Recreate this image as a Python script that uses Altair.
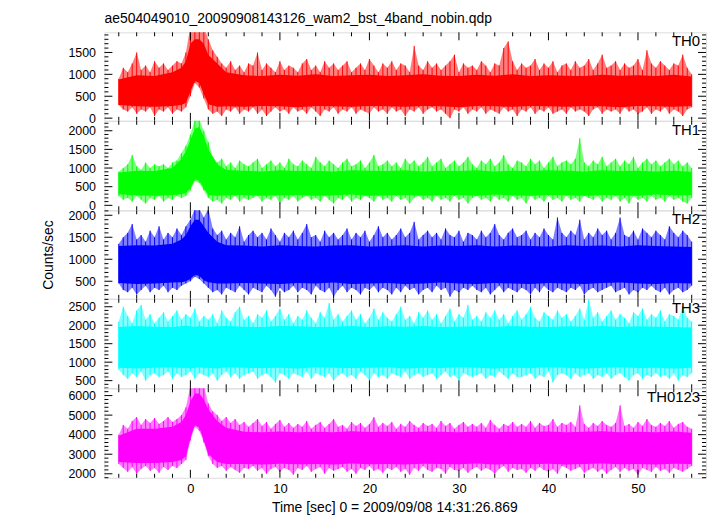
import altair as alt
import pandas as pd

TITLE = "ae504049010_20090908143126_wam2_bst_4band_nobin.qdp"
XTITLE = "Time [sec] 0 = 2009/09/08 14:31:26.869"
YTITLE = "Counts/sec"
FONT = "Liberation Sans"

# envelope samples every 0.5 s from t = -8 s
T_START, T_STEP = -8.0, 0.5
# core (dense part) sample times
CORE_T = [-8, -6, -4, -2, -1, -0.5, 0, 0.5, 1, 1.5, 2, 3, 4,
          6, 8, 10, 12, 14, 16, 18, 20, 22, 24, 26, 28, 30, 32, 34, 36,
          38, 40, 42, 44, 46, 48, 50, 52, 54, 56]

X_MAJOR = [0, 10, 20, 30, 40, 50]
X_MINOR = [-8, -6, -4, -2, 2, 4, 6, 8, 12, 14, 16, 18, 22, 24, 26, 28,
           32, 34, 36, 38, 42, 44, 46, 48, 52, 54, 56]

# ---------------- TH0 ----------------
TH0_HI = [900, 1150, 1050, 1250, 1500, 1100, 1200, 1050, 1300, 1150,
          1250, 1100, 1200, 1300, 1250, 1500, 2100, 2100, 2100, 2100,
          1800, 1550, 1400, 1250, 1150, 1300, 1100, 1200, 1050, 1250,
          1200, 1500, 1100, 1250, 1150, 1050, 1300, 1100, 1200, 1150,
          1050, 1250, 1350, 1100, 1200, 1050, 1300, 1150, 1250, 1100,
          1200, 1300, 1050, 1150, 1250, 1100, 1350, 1200, 1050, 1250,
          1150, 1300, 1100, 1250, 1200, 1050, 1650, 1200, 1100, 1300,
          1150, 1250, 1100, 1200, 1300, 1450, 1050, 1250, 1150, 1200,
          1100, 1300, 1200, 1050, 1250, 1200, 1600, 1750, 1300, 1100,
          1250, 1150, 1200, 1350, 1100, 1250, 1150, 1300, 1050, 1200,
          1250, 1100, 1300, 1150, 1200, 1350, 1100, 1250, 1450, 1150,
          1200, 1300, 1100, 1250, 1150, 1200, 1350, 1100, 1550, 1250,
          1150, 1300, 1200, 1100, 1250, 1200, 1450, 1150, 1000]
TH0_LO = [300, 200, 150, 250, 100, 200, 150, 250, 50, 200,
          150, 250, 100, 200, 150, 250, 500, 800, 700, 450,
          200, 100, 150, 50, 200, 150, 250, 100, 200, 150,
          250, 100, 200, 50, 150, 250, 150, 200, 100, 250,
          150, 200, 100, 250, 150, 50, 200, 150, 250, 100,
          200, 150, 250, 100, 200, 150, 100, 250, 150, 200,
          100, 250, 150, 200, 50, 200, 150, 250, 100, 200,
          250, 150, 200, 100, 0, 200, 150, 250, 100, 200,
          150, 250, 100, 200, 150, 100, 250, 150, 200, 50,
          200, 150, 250, 100, 200, 150, 250, 100, 150, 200,
          100, 250, 150, 200, 150, 50, 200, 250, 100, 200,
          150, 200, 100, 250, 150, 200, 100, 150, 250, 100,
          200, 150, 250, 100, 200, 150, 50, 200, 250]
TH0_CHI = [880, 980, 960,
           1050, 1150, 1300, 1700, 1800, 1800, 1700, 1450, 1250, 1050,
           980, 960, 990, 970, 1000, 960, 980, 990, 960, 980, 1000, 970, 960,
           990, 970, 1000, 960, 980, 970, 960, 990, 970, 980, 960, 990, 950]
TH0_CLO = [300, 270, 260,
           280, 300, 350, 600, 850, 800, 550, 320, 260, 270,
           260, 280, 270, 250, 280, 270, 260, 280, 270, 260, 280, 270, 250,
           280, 270, 260, 280, 270, 260, 280, 270, 250, 280, 270, 260, 280]

# ---------------- TH1 ----------------
TH1_HI = [900, 1000, 1100, 1350, 1050, 950, 1150, 1000, 1100, 1050,
          1100, 1000, 1150, 1200, 1400, 1600, 1900, 2300, 2300, 2000,
          1700, 1300, 1150, 1250, 1050, 1150, 1000, 1200, 1100, 1050,
          1150, 1250, 1000, 1100, 1200, 1050, 1150, 1000, 1250, 1100,
          1050, 1200, 1100, 1000, 1300, 1150, 1050, 1200, 1100, 1000,
          1150, 1250, 1050, 1100, 1200, 1000, 1150, 1350, 1050, 1100,
          1200, 1050, 1150, 1000, 1250, 1100, 1200, 1050, 1150, 1300,
          1050, 1150, 1250, 1000, 1100, 1200, 1050, 1150, 1300, 1100,
          1000, 1200, 1100, 1250, 1050, 1150, 1350, 1100, 1000, 1200,
          1150, 1050, 1250, 1100, 1200, 1000, 1150, 1300, 1050, 1150,
          1200, 1100, 1250, 1800, 1150, 1050, 1200, 1100, 1300, 1050,
          1150, 1250, 1050, 1200, 1100, 1300, 1000, 1150, 1250, 1100,
          1200, 1050, 1150, 1250, 1100, 1200, 1050, 1150, 1000]
TH1_LO = [250, 150, 200, 100, 250, 150, 50, 200, 150, 250,
          100, 200, 150, 250, 200, 250, 400, 650, 600, 400,
          200, 100, 150, 50, 200, 150, 250, 100, 200, 150,
          200, 250, 100, 200, 150, 250, 50, 200, 150, 250,
          100, 200, 250, 150, 200, 100, 250, 150, 50, 200,
          150, 250, 100, 200, 150, 250, 200, 100, 250, 150,
          200, 100, 250, 150, 200, 50, 200, 250, 150, 200,
          100, 250, 150, 200, 100, 250, 150, 200, 50, 200,
          250, 150, 200, 100, 250, 150, 200, 100, 250, 150,
          200, 50, 250, 150, 200, 100, 250, 150, 200, 100,
          250, 150, 200, 100, 250, 200, 150, 250, 100, 200,
          150, 250, 100, 200, 50, 250, 150, 200, 100, 250,
          150, 200, 100, 250, 150, 200, 100, 50, 200]
TH1_CHI = [880, 930, 920,
           1000, 1250, 1450, 1750, 2050, 2100, 1850, 1500, 1100, 950,
           930, 910, 940, 920, 930, 910, 940, 930, 920, 940, 910, 930, 920,
           940, 910, 930, 920, 940, 930, 910, 940, 920, 930, 910, 930, 900]
TH1_CLO = [300, 270, 260,
           280, 300, 330, 450, 700, 650, 450, 280, 260, 270,
           280, 260, 270, 280, 260, 270, 290, 260, 270, 280, 260, 270, 280,
           260, 290, 270, 260, 280, 270, 260, 280, 270, 260, 290, 270, 280]

# ---------------- TH2 ----------------
TH2_HI = [1350, 1500, 1600, 1800, 1450, 1550, 1400, 1650, 1500, 1750,
          1450, 1600, 1500, 1700, 1550, 1750, 1900, 2150, 2150, 1950,
          2150, 1700, 1550, 1650, 1450, 1600, 1500, 1750, 1400, 1550,
          1650, 1500, 1600, 1450, 1700, 1550, 1400, 1600, 1500, 1650,
          1450, 1600, 1800, 1500, 1550, 1400, 1650, 1500, 1600, 1450,
          1550, 1700, 1450, 1600, 1500, 1650, 1400, 1550, 1750, 1500,
          1600, 1450, 1550, 1700, 1500, 1600, 1850, 1450, 1550, 1650,
          1500, 1600, 1450, 1700, 1550, 1500, 1650, 1400, 1600, 1550,
          1450, 1650, 1500, 1600, 1800, 1550, 1450, 1600, 1700, 1500,
          1550, 1650, 1450, 1600, 1500, 1700, 1550, 1450, 1950, 1600,
          1500, 1650, 1550, 1900, 1450, 1600, 1500, 1700, 1550, 1650,
          1450, 1600, 1950, 1550, 1500, 1650, 1450, 1700, 1600, 1500,
          1650, 1550, 1450, 1750, 1600, 1500, 1650, 1550, 1400]
TH2_LO = [450, 300, 250, 350, 200, 300, 400, 250, 350, 300,
          400, 250, 350, 300, 400, 450, 500, 600, 550, 450,
          350, 250, 300, 200, 350, 300, 250, 400, 300, 200,
          350, 300, 250, 400, 300, 150, 350, 250, 300, 400,
          250, 350, 300, 200, 400, 300, 250, 350, 150, 300,
          400, 250, 350, 300, 200, 350, 300, 400, 250, 350,
          300, 200, 350, 250, 400, 300, 350, 200, 300, 350,
          250, 400, 300, 350, 150, 300, 250, 350, 300, 400,
          300, 250, 350, 200, 300, 400, 250, 350, 300, 250,
          350, 300, 200, 350, 250, 400, 300, 250, 350, 300,
          250, 350, 300, 400, 200, 300, 350, 250, 300, 350,
          400, 250, 300, 350, 200, 300, 250, 350, 300, 400,
          300, 250, 350, 200, 300, 350, 250, 300, 400]
TH2_CHI = [1300, 1320, 1310,
           1350, 1450, 1550, 1750, 1900, 1900, 1750, 1600, 1400, 1320,
           1310, 1290, 1320, 1300, 1290, 1310, 1320, 1290, 1300, 1320, 1290, 1310, 1300,
           1320, 1290, 1310, 1300, 1290, 1320, 1300, 1310, 1290, 1320, 1300, 1290, 1280]
TH2_CLO = [460, 440, 450,
           470, 480, 500, 550, 650, 620, 520, 480, 450, 450,
           460, 450, 440, 460, 450, 470, 440, 450, 460, 440, 450, 470, 450,
           440, 460, 450, 440, 460, 450, 440, 460, 470, 450, 440, 460, 450]

# ---------------- TH3 ----------------
TH3_HI = [2100, 2500, 2250, 2050, 2400, 2550, 2150, 2300, 2050, 2200,
          2350, 2100, 2250, 2400, 2150, 2300, 2200, 2450, 2100, 2250,
          2150, 2300, 2050, 2400, 2200, 2100, 2350, 2500, 2150, 2250,
          2050, 2300, 2200, 2400, 2100, 2250, 2450, 2150, 2300, 2050,
          2250, 2150, 2400, 2200, 2050, 2350, 2200, 2600, 2150, 2300,
          2100, 2250, 2400, 2150, 2300, 2050, 2200, 2450, 2150, 2350,
          2200, 2100, 2300, 2500, 2150, 2250, 2050, 2350, 2200, 2400,
          2150, 2300, 2050, 2250, 2450, 2100, 2300, 2200, 2550, 2150,
          2250, 2100, 2350, 2200, 2400, 2150, 2300, 2050, 2250, 2400,
          2150, 2300, 2500, 2200, 2100, 2350, 2250, 2150, 2400, 2200,
          2300, 2100, 2250, 2450, 2150, 2700, 2200, 2350, 2100, 2250,
          2400, 2150, 2300, 2200, 2050, 2350, 2250, 2450, 2150, 2300,
          2200, 2400, 2100, 2300, 2250, 2150, 2500, 2200, 2100]
TH3_LO = [800, 650, 550, 700, 600, 750, 500, 650, 700, 600,
          650, 750, 550, 700, 600, 650, 750, 550, 700, 650,
          600, 700, 500, 650, 750, 600, 700, 550, 650, 700,
          750, 550, 650, 700, 600, 450, 700, 650, 550, 700,
          650, 600, 750, 550, 700, 650, 600, 700, 500, 650,
          700, 600, 650, 550, 750, 650, 500, 700, 600, 650,
          550, 700, 650, 600, 750, 550, 650, 700, 600, 650,
          700, 550, 650, 750, 600, 650, 500, 700, 650, 600,
          650, 700, 550, 650, 600, 750, 650, 550, 700, 600,
          600, 650, 700, 550, 650, 600, 750, 450, 650, 700,
          650, 550, 700, 600, 650, 700, 550, 650, 600, 700,
          550, 650, 700, 600, 500, 650, 700, 550, 650, 600,
          700, 600, 650, 550, 700, 500, 650, 600, 700]
TH3_CHI = [1950, 1980, 1960,
           1950, 1970, 1990, 1970, 1950, 1980, 1960, 1950, 1970, 1980,
           1960, 1950, 1980, 1970, 1950, 1960, 1980, 1950, 1970, 1960, 1980, 1950, 1960,
           1970, 1950, 1980, 1960, 1950, 1970, 1960, 1980, 1950, 1970, 1960, 1950, 1940]
TH3_CLO = [850, 830, 850,
           860, 840, 850, 830, 850, 860, 840, 850, 830, 860,
           850, 840, 850, 830, 860, 850, 840, 850, 860, 830, 850, 840, 860,
           850, 830, 850, 840, 860, 850, 830, 850, 860, 840, 850, 830, 850]

# ---------------- TH0123 ----------------
TH0123_HI = [4000, 4500, 4300, 4700, 4900, 4500, 4800, 4600, 4850, 4550,
             4700, 4900, 4650, 4800, 5000, 5400, 6500, 6500, 6500, 6500,
             5600, 5200, 5000, 4700, 4900, 4600, 4800, 4500, 4650, 4400,
             4600, 4800, 4450, 4650, 4300, 4550, 4750, 4400, 4600, 4350,
             4550, 4400, 4700, 4300, 4500, 4650, 4350, 4550, 4800, 4400,
             4500, 4300, 4650, 4450, 4600, 4350, 4550, 4900, 4400, 4600,
             4450, 4650, 4300, 4550, 4400, 4700, 4500, 4350, 4600, 4450,
             4550, 4350, 4700, 4450, 4600, 4300, 4500, 4650, 4400, 4550,
             4400, 4600, 4350, 4750, 4500, 4300, 4550, 4450, 4650, 4400,
             4550, 4400, 4700, 4350, 4600, 4450, 4500, 4800, 4400, 4600,
             4500, 4650, 4400, 5500, 4550, 4350, 4600, 4450, 4700, 4500,
             4400, 4600, 5500, 4450, 4550, 4350, 4650, 4450, 4800, 4500,
             4400, 4600, 4450, 4700, 4350, 4550, 4650, 4400, 4300]
TH0123_LO = [2500, 2300, 2100, 2350, 2000, 2250, 2400, 2150, 2300, 2050,
             2350, 2200, 2400, 2300, 2500, 2700, 3700, 4400, 4200, 3600,
             2900, 2500, 2300, 2400, 2150, 2350, 2200, 2050, 2300, 2250,
             2400, 2150, 2300, 2000, 2250, 2350, 2100, 2300, 2200, 1950,
             2300, 2200, 2400, 2100, 2250, 2350, 2000, 2300, 2150, 2250,
             2350, 2100, 2250, 2000, 2300, 2200, 2400, 2150, 2250, 2050,
             2300, 2200, 2350, 2100, 2250, 1950, 2300, 2150, 2400, 2200,
             2100, 2300, 2250, 2000, 2350, 2200, 2150, 2300, 2050, 2250,
             2350, 2150, 2300, 2200, 2000, 2250, 2400, 2100, 2300, 2200,
             2250, 2050, 2300, 2150, 2350, 2200, 2100, 2250, 2000, 2400,
             2300, 2150, 2250, 2350, 2050, 2200, 2300, 2100, 2250, 2000,
             2200, 2350, 2100, 2300, 2150, 2250, 1950, 2300, 2200, 2100,
             2350, 2150, 2250, 2050, 2300, 2200, 2100, 2250, 2400]
TH0123_CHI = [3950, 4300, 4300,
              4400, 4650, 5000, 5700, 6100, 6100, 5800, 5300, 4700, 4350,
              4150, 4120, 4160, 4130, 4150, 4120, 4170, 4140, 4150, 4120, 4160, 4150, 4130,
              4160, 4120, 4150, 4140, 4160, 4120, 4150, 4170, 4130, 4150, 4120, 4160, 4100]
TH0123_CLO = [2600, 2550, 2550,
              2600, 2700, 2900, 3800, 4500, 4350, 3700, 3000, 2600, 2500,
              2500, 2480, 2510, 2490, 2500, 2480, 2520, 2490, 2500, 2480, 2510, 2500, 2490,
              2520, 2480, 2500, 2490, 2510, 2480, 2500, 2520, 2490, 2500, 2480, 2510, 2500]

PANELS = [
    dict(name="TH0", color="#ff0000", hi=TH0_HI, lo=TH0_LO, chi=TH0_CHI, clo=TH0_CLO,
         dom=[-61, 1960], major=[0, 500, 1000, 1500],
         minor=[v for v in range(0, 2000, 100) if v % 500]),
    dict(name="TH1", color="#00ff00", hi=TH1_HI, lo=TH1_LO, chi=TH1_CHI, clo=TH1_CLO,
         dom=[-133, 2266], major=[0, 500, 1000, 1500, 2000],
         minor=[v for v in range(0, 2300, 100) if v % 500]),
    dict(name="TH2", color="#0000ff", hi=TH2_HI, lo=TH2_LO, chi=TH2_CHI, clo=TH2_CLO,
         dom=[101, 2113], major=[500, 1000, 1500, 2000],
         minor=[v for v in range(200, 2200, 100) if v % 500]),
    dict(name="TH3", color="#00ffff", hi=TH3_HI, lo=TH3_LO, chi=TH3_CHI, clo=TH3_CLO,
         dom=[293, 2715], major=[500, 1000, 1500, 2000, 2500],
         minor=[v for v in range(300, 2800, 100) if v % 500]),
    dict(name="TH0123", color="#ff00ff", hi=TH0123_HI, lo=TH0123_LO, chi=TH0123_CHI, clo=TH0123_CLO,
         dom=[1796, 6372], major=[2000, 3000, 4000, 5000, 6000],
         minor=[v for v in range(1800, 6400, 200) if v % 1000]),
]

W = 605
HEIGHTS = [89, 90, 89, 90, 90]
XDOM = [-9.6, 57.6]
MAJ, MIN = 8, 4


def build(idx, p, h):
    n = len(p["hi"])
    env = pd.DataFrame({"t": [T_START + T_STEP * i for i in range(n)],
                        "hi": p["hi"], "lo": p["lo"]})
    core = pd.DataFrame({"t": CORE_T, "hi": p["chi"], "lo": p["clo"]})
    xs = alt.Scale(domain=XDOM, nice=False, zero=False)
    ys = alt.Scale(domain=p["dom"], nice=False, zero=False)

    if idx == len(PANELS) - 1:
        xaxis = alt.Axis(values=X_MAJOR, ticks=False, domain=False, grid=False,
                         labelFont=FONT, labelFontSize=13, labelColor="black",
                         labelPadding=5, format="d", title=XTITLE,
                         titleFont=FONT, titleFontSize=14, titleFontWeight="normal",
                         titleColor="black", titlePadding=5, titleX=291.5)
    else:
        xaxis = None
    yaxis = alt.Axis(values=p["major"], ticks=False, domain=False, grid=False,
                     labelFont=FONT, labelFontSize=12.5, labelColor="black",
                     labelPadding=9, format="d",
                     title=YTITLE if idx == 2 else None,
                     titleFont=FONT, titleFontSize=14, titleFontWeight="normal",
                     titleColor="black", titlePadding=12)

    def X(f):
        return alt.X(f, type="quantitative", scale=xs, axis=xaxis)

    def Y(f):
        return alt.Y(f, type="quantitative", scale=ys, axis=yaxis)

    layers = [
        alt.Chart(env).mark_area(color=p["color"], opacity=0.5, clip=True)
        .encode(x=X("t"), y=Y("hi"), y2="lo"),
        alt.Chart(env).mark_rule(color=p["color"], strokeWidth=1, clip=True)
        .encode(x=X("t"), y=Y("hi"), y2="lo"),
        alt.Chart(core).mark_area(color=p["color"], opacity=1, clip=True)
        .encode(x=X("t"), y=Y("hi"), y2="lo"),
    ]
    xmaj = pd.DataFrame({"v": X_MAJOR})
    xmin = pd.DataFrame({"v": X_MINOR})
    ymaj = pd.DataFrame({"v": p["major"]})
    ymin = pd.DataFrame({"v": p["minor"]})
    rule = dict(color="black", strokeWidth=1)
    for df, L in ((xmaj, MAJ), (xmin, MIN)):
        layers.append(alt.Chart(df).mark_rule(**rule).encode(
            x=X("v"), y=alt.value(h), y2=alt.value(h - L)))
        layers.append(alt.Chart(df).mark_rule(**rule).encode(
            x=X("v"), y=alt.value(0), y2=alt.value(L)))
    for df, L in ((ymaj, MAJ), (ymin, MIN)):
        layers.append(alt.Chart(df).mark_rule(**rule).encode(
            y=Y("v"), x=alt.value(0), x2=alt.value(L)))
        layers.append(alt.Chart(df).mark_rule(**rule).encode(
            y=Y("v"), x=alt.value(W), x2=alt.value(W - L)))
    layers.append(
        alt.Chart(pd.DataFrame({"lab": [p["name"]]}))
        .mark_text(align="right", baseline="top", font=FONT, fontSize=15, color="black")
        .encode(x=alt.value(W - 6), y=alt.value(2), text="lab:N"))

    c = alt.layer(*layers).properties(width=W, height=h)
    if idx == 0:
        c = c.properties(title=alt.TitleParams(
            TITLE, anchor="start", frame="group", font=FONT, fontSize=14,
            fontWeight="normal", color="black", offset=6))
    return c


charts = [build(i, p, HEIGHTS[i]) for i, p in enumerate(PANELS)]

chart = (
    alt.vconcat(*charts, spacing=0, bounds="flush")
    .properties(padding={"left": 33, "top": 2, "right": 2, "bottom": 2})
    .configure_view(stroke="black", strokeWidth=1.5)
    .configure(background="white")
)

chart.save("out.html", embed_options={"renderer": "svg", "actions": False})
